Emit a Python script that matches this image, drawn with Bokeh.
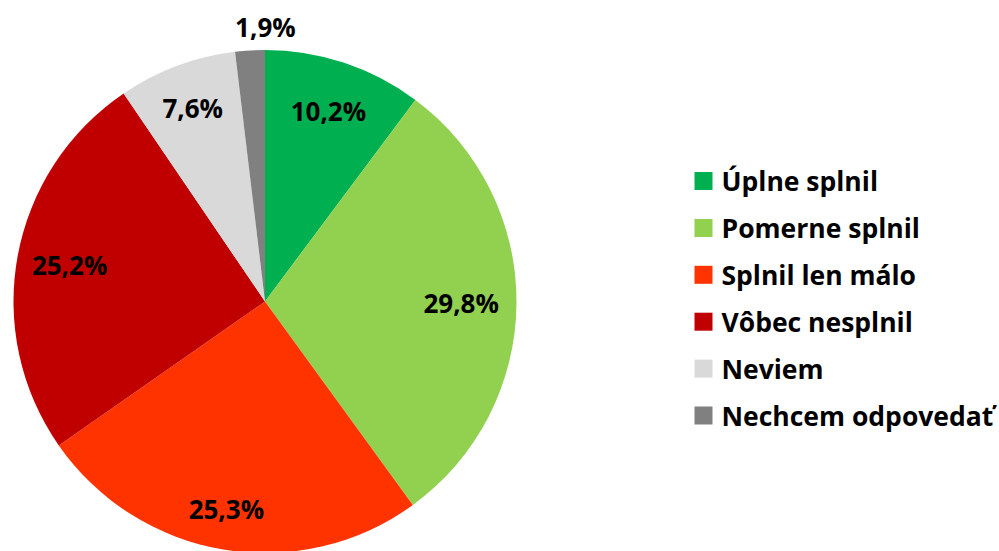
import math
from bokeh.plotting import figure
from bokeh.models import Range1d, ColumnDataSource
from bokeh.core.properties import value
from bokeh.embed import file_html
from bokeh.resources import INLINE

# ---- data ----
categories = ["Úplne splnil", "Pomerne splnil", "Splnil len málo",
              "Vôbec nesplnil", "Neviem", "Nechcem odpovedať"]
values = [10.2, 29.8, 25.3, 25.2, 7.6, 1.9]
labels = ["10,2%", "29,8%", "25,3%", "25,2%", "7,6%", "1,9%"]
colors = ["#00B050", "#92D050", "#FF3300", "#C00000", "#D9D9D9", "#808080"]

# ---- layout (page pixel space; y data = 551 - page_y) ----
W, H = 999, 551
PAGE_H = 551
cx, cy_page, R = 264.5, 301.0, 251.5
cy = PAGE_H - cy_page
label_frac = [0.80, 0.78, 0.84, 0.79, 0.82, 1.09]
label_shift_deg = [0, 0, -1, 0, 0, -3.5]

total = sum(values)
starts, ends, lx, ly = [], [], [], []
cum = 0.0
for v, f, s in zip(values, label_frac, label_shift_deg):
    a0 = math.pi / 2 - 2 * math.pi * cum / total
    a1 = math.pi / 2 - 2 * math.pi * (cum + v) / total
    starts.append(a0)
    ends.append(a1)
    mid = (a0 + a1) / 2 + math.radians(s)
    lx.append(cx + f * R * math.cos(mid))
    ly.append(cy + f * R * math.sin(mid))
    cum += v

src = ColumnDataSource(dict(start=starts, end=ends, color=colors,
                            lx=lx, ly=ly, label=labels))

p = figure(width=W, height=H, output_backend="svg", toolbar_location=None,
           x_range=Range1d(0, W), y_range=Range1d(PAGE_H - H, PAGE_H),
           x_axis_type=None, y_axis_type=None, min_border=0)
p.outline_line_color = None
p.grid.visible = False
p.background_fill_color = "white"
p.border_fill_color = "white"

p.wedge(x=cx, y=cy, radius=R, start_angle="start", end_angle="end",
        direction="clock", fill_color="color", line_color=None, source=src)

p.text(x="lx", y="ly", text="label", source=src, text_align="center",
       text_baseline="middle", text_font=value("Open Sans"),
       text_font_style="bold", text_font_size="26px", text_color="black")

# legend
leg_x_sq, leg_x_txt = 703, 721
row0, step = 180.5, 46.9
leg_y = [PAGE_H - (row0 + i * step) for i in range(len(categories))]
leg = ColumnDataSource(dict(y=leg_y, color=colors, name=categories))
p.rect(x=leg_x_sq, y="y", width=18, height=18, width_units="screen",
       height_units="screen", fill_color="color", line_color=None, source=leg)
p.text(x=leg_x_txt, y="y", text="name", source=leg, text_align="left",
       text_baseline="middle", text_font=value("Open Sans"),
       text_font_style="bold", text_font_size="26.5px", text_color="black")

open("out.html", "w").write(file_html(p, INLINE))
